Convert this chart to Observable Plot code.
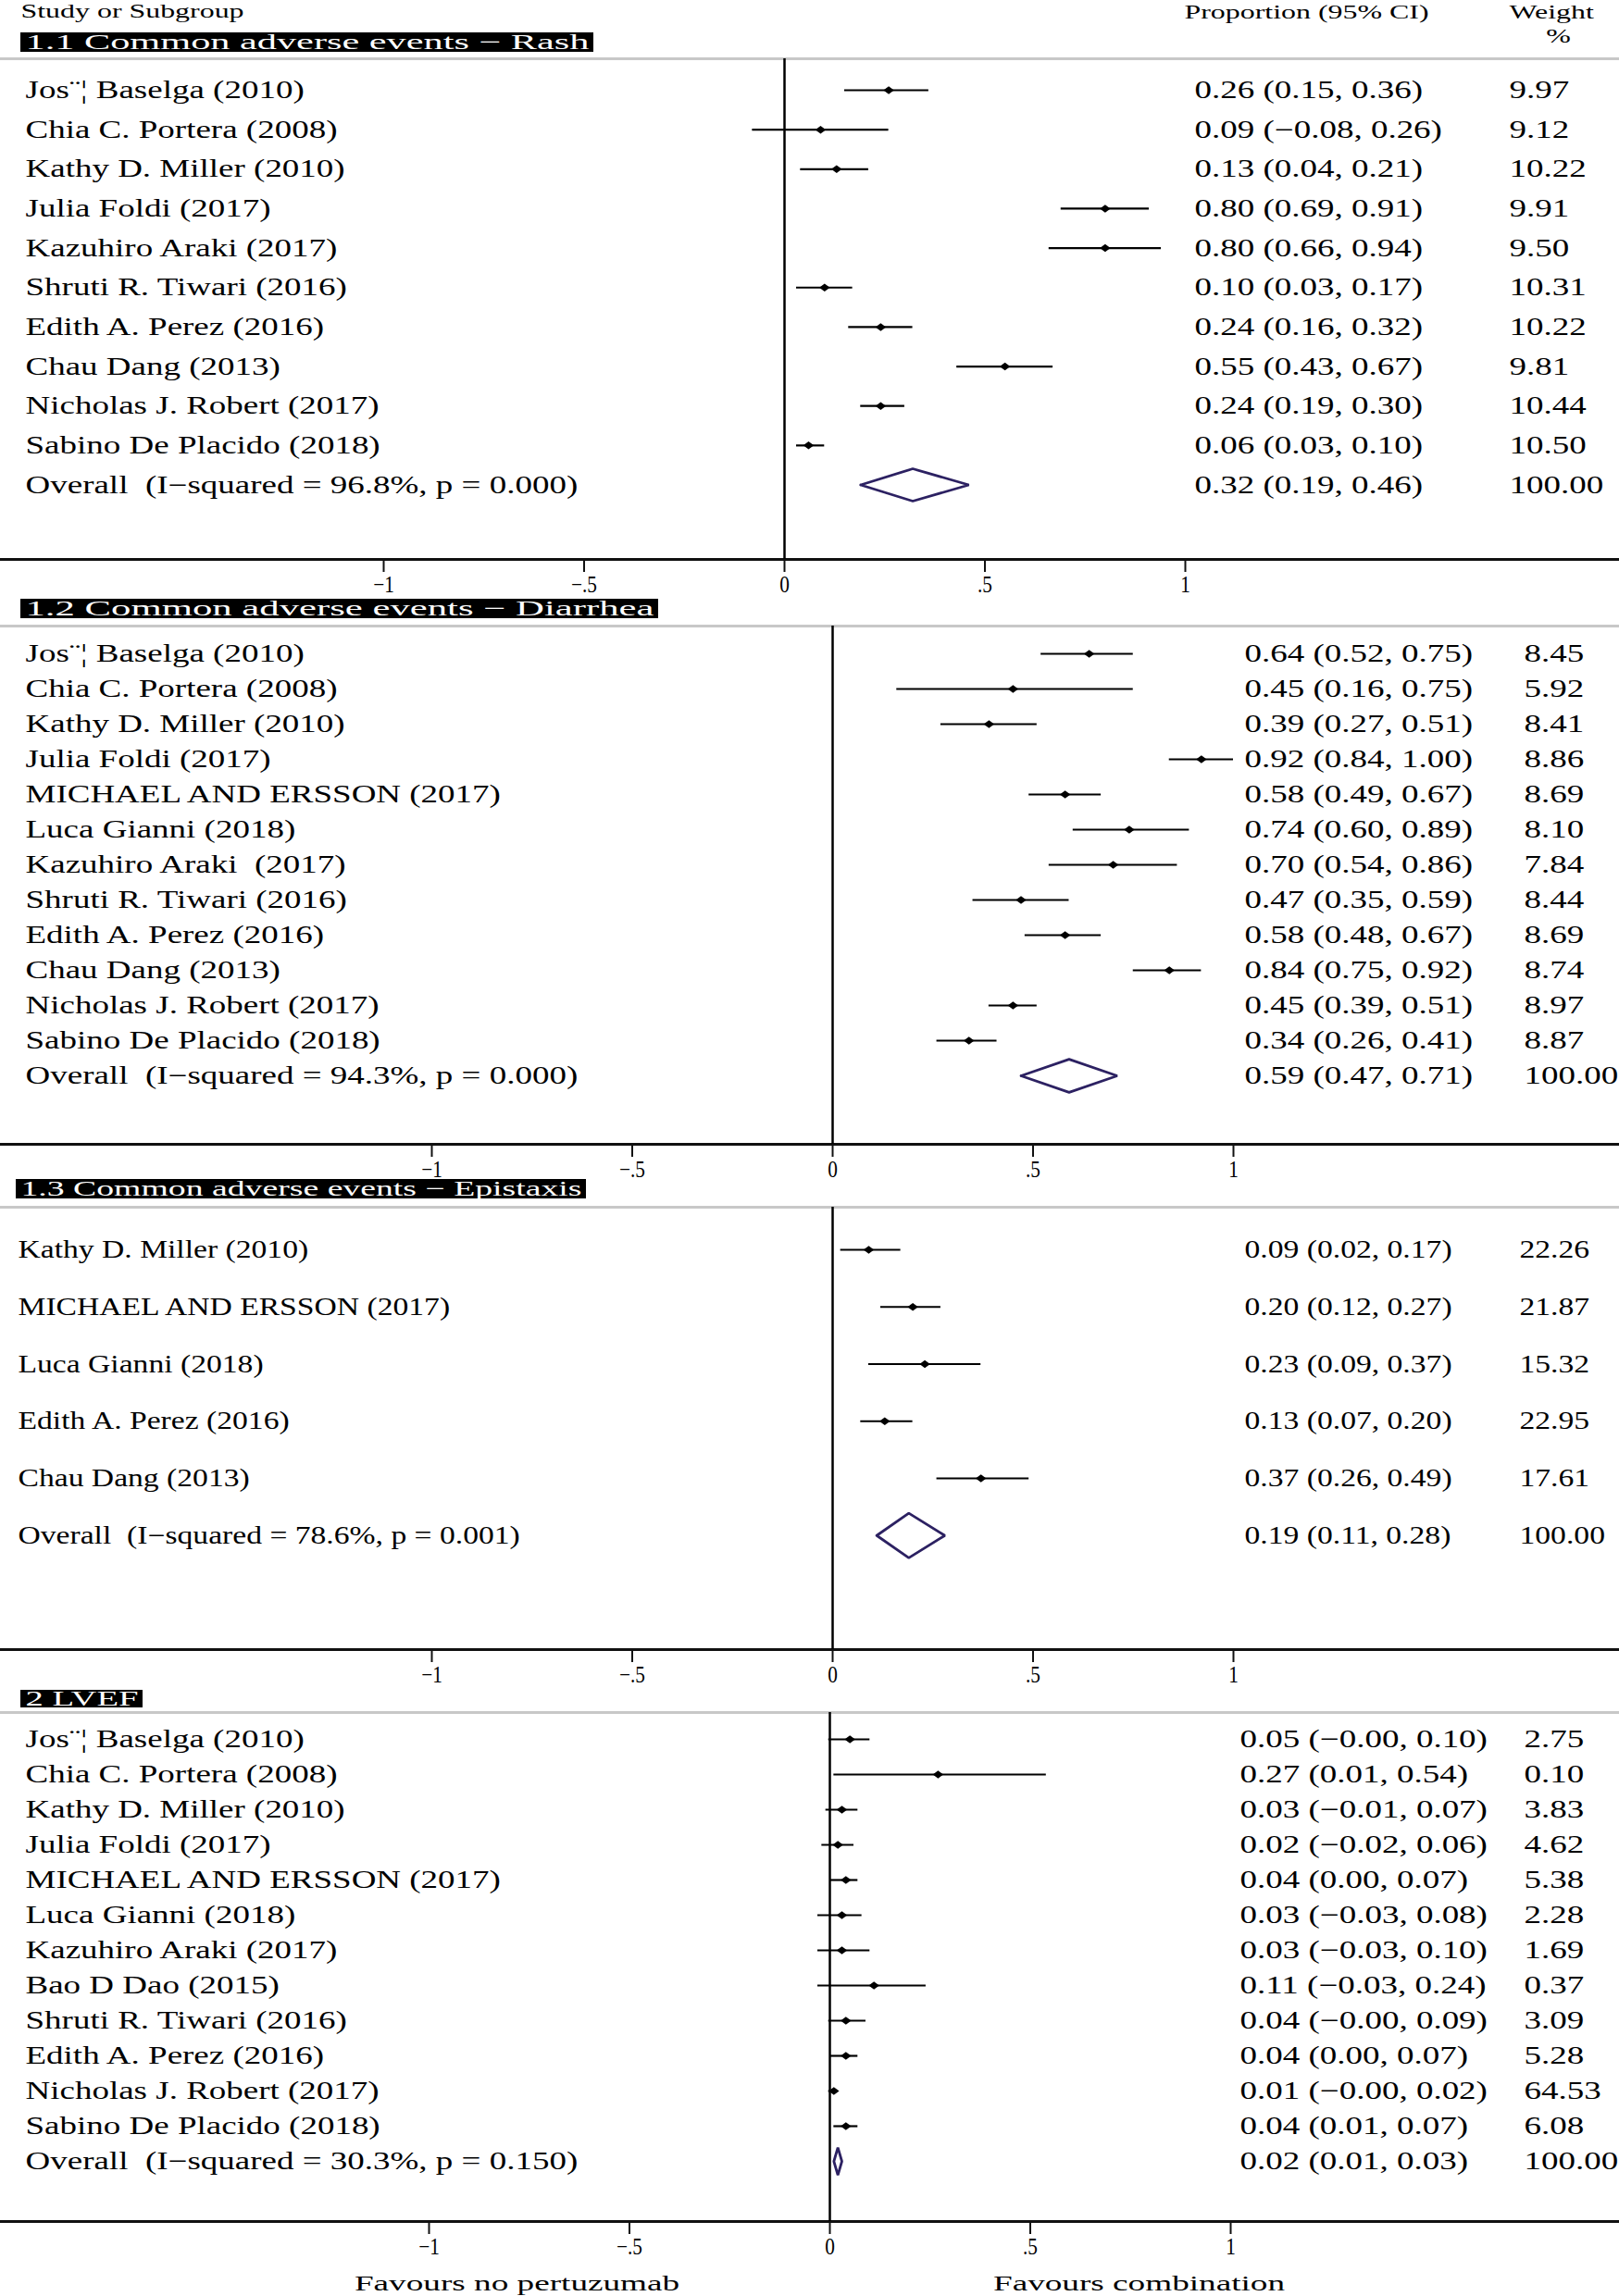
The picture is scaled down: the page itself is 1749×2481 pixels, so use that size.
<!DOCTYPE html>
<html><head><meta charset="utf-8">
<script src="https://cdn.jsdelivr.net/npm/d3@7"></script>
<script src="https://cdn.jsdelivr.net/npm/@observablehq/plot@0.6"></script>
<style>
body{margin:0;background:#fff;}
#chart{width:1749px;}
#chart svg{display:block;}
svg text{white-space:pre;}
</style></head><body><div id="chart"></div>
<script>
// ---------------- data ----------------
const colHeaders = ["Study or Subgroup", "Proportion (95% CI)", "Weight", "%"];
const panelTitles = ["1.1 Common adverse events \u2212 Rash", "1.2 Common adverse events \u2212 Diarrhea", "1.3 Common adverse events \u2212 Epistaxis", "2 LVEF"];
const favoursLabels = ["Favours no pertuzumab", "Favours combination"];
const tickValues = [-1, -0.5, 0, 0.5, 1];
const tickLabels = ["\u22121", "\u2212.5", "0", ".5", "1"];

const rashLabels = ["Jos\u00a8\u00a6 Baselga (2010)", "Chia C. Portera (2008)", "Kathy D. Miller (2010)", "Julia Foldi (2017)", "Kazuhiro Araki (2017)", "Shruti R. Tiwari (2016)", "Edith A. Perez (2016)", "Chau Dang (2013)", "Nicholas J. Robert (2017)", "Sabino De Placido (2018)", "Overall  (I\u2212squared = 96.8%, p = 0.000)"];
const rashEst = [0.26, 0.09, 0.13, 0.80, 0.80, 0.10, 0.24, 0.55, 0.24, 0.06, 0.32];
const rashLo = [0.15, -0.08, 0.04, 0.69, 0.66, 0.03, 0.16, 0.43, 0.19, 0.03, 0.19];
const rashHi = [0.36, 0.26, 0.21, 0.91, 0.94, 0.17, 0.32, 0.67, 0.30, 0.10, 0.46];
const rashWeight = [9.97, 9.12, 10.22, 9.91, 9.50, 10.31, 10.22, 9.81, 10.44, 10.50, 100.00];

const diarrheaLabels = ["Jos\u00a8\u00a6 Baselga (2010)", "Chia C. Portera (2008)", "Kathy D. Miller (2010)", "Julia Foldi (2017)", "MICHAEL AND ERSSON (2017)", "Luca Gianni (2018)", "Kazuhiro Araki  (2017)", "Shruti R. Tiwari (2016)", "Edith A. Perez (2016)", "Chau Dang (2013)", "Nicholas J. Robert (2017)", "Sabino De Placido (2018)", "Overall  (I\u2212squared = 94.3%, p = 0.000)"];
const diarrheaEst = [0.64, 0.45, 0.39, 0.92, 0.58, 0.74, 0.70, 0.47, 0.58, 0.84, 0.45, 0.34, 0.59];
const diarrheaLo = [0.52, 0.16, 0.27, 0.84, 0.49, 0.60, 0.54, 0.35, 0.48, 0.75, 0.39, 0.26, 0.47];
const diarrheaHi = [0.75, 0.75, 0.51, 1.00, 0.67, 0.89, 0.86, 0.59, 0.67, 0.92, 0.51, 0.41, 0.71];
const diarrheaWeight = [8.45, 5.92, 8.41, 8.86, 8.69, 8.10, 7.84, 8.44, 8.69, 8.74, 8.97, 8.87, 100.00];

const epistaxisLabels = ["Kathy D. Miller (2010)", "MICHAEL AND ERSSON (2017)", "Luca Gianni (2018)", "Edith A. Perez (2016)", "Chau Dang (2013)", "Overall  (I\u2212squared = 78.6%, p = 0.001)"];
const epistaxisEst = [0.09, 0.20, 0.23, 0.13, 0.37, 0.19];
const epistaxisLo = [0.02, 0.12, 0.09, 0.07, 0.26, 0.11];
const epistaxisHi = [0.17, 0.27, 0.37, 0.20, 0.49, 0.28];
const epistaxisWeight = [22.26, 21.87, 15.32, 22.95, 17.61, 100.00];

const lvefLabels = ["Jos\u00a8\u00a6 Baselga (2010)", "Chia C. Portera (2008)", "Kathy D. Miller (2010)", "Julia Foldi (2017)", "MICHAEL AND ERSSON (2017)", "Luca Gianni (2018)", "Kazuhiro Araki (2017)", "Bao D Dao (2015)", "Shruti R. Tiwari (2016)", "Edith A. Perez (2016)", "Nicholas J. Robert (2017)", "Sabino De Placido (2018)", "Overall  (I\u2212squared = 30.3%, p = 0.150)"];
const lvefEst = [0.05, 0.27, 0.03, 0.02, 0.04, 0.03, 0.03, 0.11, 0.04, 0.04, 0.01, 0.04, 0.02];
const lvefLo = [-0.003, 0.01, -0.01, -0.02, 0.00, -0.03, -0.03, -0.03, -0.003, 0.00, -0.003, 0.01, 0.01];
const lvefHi = [0.10, 0.54, 0.07, 0.06, 0.07, 0.08, 0.10, 0.24, 0.09, 0.07, 0.02, 0.07, 0.03];
const lvefWeight = [2.75, 0.10, 3.83, 4.62, 5.38, 2.28, 1.69, 0.37, 3.09, 5.28, 64.53, 6.08, 100.00];

// ---------------- layout / style ----------------
const W = 1749, UNIT = 433;
const NAVY = "#2c2162";
const FONT = "'Liberation Serif', 'Times New Roman', serif";
const fmt = d => (d < 0 ? "\u2212" : "") + Math.abs(d).toFixed(2);
const wideDiamond = {draw(ctx, size) {
  const r = Math.sqrt(size / Math.PI);
  ctx.moveTo(-r * 1.15, 0); ctx.lineTo(0, -r * 0.85); ctx.lineTo(r * 1.15, 0); ctx.lineTo(0, r * 0.85); ctx.closePath();
}};

function stretchEl(t, fn) {
  const len = t.getComputedTextLength();
  if (!len) return;
  t.setAttribute("textLength", fn(len).toFixed(2));
  t.setAttribute("lengthAdjust", "spacingAndGlyphs");
}

function makePanel(p) {
  const L = p.layout;
  const toRow = px => (px - L.row0) / L.step;
  const n = p.labels.length;
  const rows = p.labels.map((label, i) => ({label, row: i, est: p.est[i], lo: p.lo[i], hi: p.hi[i], w: p.weight[i], overall: i === n - 1}));
  const studies = rows.filter(d => !d.overall);
  const overall = rows.filter(d => d.overall);
  const diamond = overall.flatMap(d => [
    {x: d.lo, y: d.row}, {x: d.est, y: d.row - L.dh}, {x: d.hi, y: d.row},
    {x: d.est, y: d.row + L.dh}, {x: d.lo, y: d.row}
  ]);
  const textOpts = {y: "row", frameAnchor: "left", textAnchor: "start", fontSize: 27, fill: "black"};
  const tickFormat = d => tickLabels[tickValues.indexOf(d)];
  const marks = [
    Plot.ruleY([toRow(L.gray)], {stroke: "#c8c8c8", strokeWidth: 3}),
    Plot.ruleY([toRow(L.axis)], {stroke: "#111", strokeWidth: 3}),
    // x axis: ticks and tick labels on the x scale
    Plot.ruleX(tickValues, {x: d => d, y1: toRow(L.axis), y2: toRow(L.axis + 14), stroke: "#111", strokeWidth: 2}),
    Plot.text(tickValues, {x: d => d, y: toRow(L.axis + 27), text: tickFormat, fontSize: 25, fill: "black"}),
    Plot.ruleX([0], {y1: toRow(L.gray), y2: toRow(L.axis), stroke: "black", strokeWidth: 2.5}),
    Plot.ruleY(studies, {y: "row", x1: "lo", x2: "hi", stroke: "black", strokeWidth: 2.2}),
    Plot.dot(studies, {x: "est", y: "row", symbol: wideDiamond, r: 5, fill: "black", stroke: "none"}),
    Plot.line(diamond, {x: "x", y: "y", stroke: NAVY, strokeWidth: 2.8, strokeLinejoin: "miter"}),
    Plot.text(rows, {...textOpts, text: "label", dx: L.labelX}),
    Plot.text(rows, {...textOpts, text: d => `${fmt(d.est)} (${fmt(d.lo)}, ${fmt(d.hi)})`, dx: L.ciX}),
    Plot.text(rows, {...textOpts, text: d => fmt(d.w), dx: L.wX}),
    Plot.text([p.title], {text: d => d, y: toRow((L.boxTop + L.boxBot) / 2), frameAnchor: "left", dx: L.boxX + 5, textAnchor: "start", fontSize: 23, fill: "white"})
  ];
  if (p.colHeads) {
    const ch = {text: d => d, frameAnchor: "left", textAnchor: "start", fontSize: 22, fill: "black"};
    marks.push(
      Plot.text([colHeaders[0]], {...ch, y: toRow(11), dx: 22}),
      Plot.text([colHeaders[1]], {...ch, y: toRow(12), dx: 1279}),
      Plot.text([colHeaders[2]], {...ch, y: toRow(12), dx: 1630}),
      Plot.text([colHeaders[3]], {...ch, y: toRow(38), dx: 1683, textAnchor: "middle"})
    );
  }
  if (p.favours) {
    const fv = {text: d => d, frameAnchor: "left", textAnchor: "middle", fontSize: 24, fill: "black", y: toRow(L.favY)};
    marks.push(
      Plot.text([favoursLabels[0]], {...fv, dx: 558}),
      Plot.text([favoursLabels[1]], {...fv, dx: 1230})
    );
  }
  const svg = Plot.plot({
    width: W, height: L.height,
    marginLeft: 0, marginRight: 0, marginTop: 0, marginBottom: 0,
    style: {fontFamily: FONT, fontSize: "21px", color: "black", background: "transparent", overflow: "visible"},
    x: {domain: [-L.zero / UNIT, (W - L.zero) / UNIT], axis: null},
    y: {domain: [toRow(0), toRow(L.height)], range: [0, L.height], axis: null},
    marks
  });
  document.getElementById("chart").appendChild(svg);

  // post-process text widths (the reference typesetting is horizontally stretched)
  const tickSet = new Set(tickLabels);
  const titleSet = new Set(panelTitles);
  const headSet = new Set(colHeaders);
  const favSet = new Set(favoursLabels);
  let titleText = null;
  svg.querySelectorAll("text").forEach(t => {
    const s = t.textContent;
    if (titleSet.has(s)) { stretchEl(t, () => L.headerW); titleText = t; }
    else if (headSet.has(s)) stretchEl(t, len => len * 1.45);
    else if (favSet.has(s)) stretchEl(t, len => len * 1.55);
    else if (tickSet.has(s)) stretchEl(t, len => len * 0.85);
    else stretchEl(t, len => len * p.ratio);
  });
  // black label box behind the subgroup title
  if (titleText) {
    const g = titleText.parentNode;
    const rect = document.createElementNS("http://www.w3.org/2000/svg", "rect");
    rect.setAttribute("x", L.boxX);
    rect.setAttribute("y", L.boxTop);
    rect.setAttribute("width", L.headerW + 10);
    rect.setAttribute("height", L.boxBot - L.boxTop);
    rect.setAttribute("fill", "black");
    g.parentNode.insertBefore(rect, g);
  }
}

makePanel({labels: rashLabels, est: rashEst, lo: rashLo, hi: rashHi, weight: rashWeight, title: panelTitles[0], colHeads: true, ratio: 1.37,
  layout: {height: 641, row0: 97, step: 42.65, gray: 63, axis: 604, zero: 847, boxTop: 35, boxBot: 56, boxX: 22, headerW: 609, labelX: 27, ciX: 1290, wX: 1630, dh: 0.41}});
makePanel({labels: diarrheaLabels, est: diarrheaEst, lo: diarrheaLo, hi: diarrheaHi, weight: diarrheaWeight, title: panelTitles[1], ratio: 1.37,
  layout: {height: 627, row0: 65, step: 38, gray: 35, axis: 595, zero: 899, boxTop: 6, boxBot: 27, boxX: 22, headerW: 679, labelX: 27, ciX: 1344, wX: 1646, dh: 0.47}});
makePanel({labels: epistaxisLabels, est: epistaxisEst, lo: epistaxisLo, hi: epistaxisHi, weight: epistaxisWeight, title: panelTitles[2], ratio: 1.245,
  layout: {height: 547, row0: 82, step: 61.75, gray: 36, axis: 514, zero: 899, boxTop: 6, boxBot: 27, boxX: 17, headerW: 606, labelX: 19, ciX: 1344, wX: 1641, dh: 0.39}});
makePanel({labels: lvefLabels, est: lvefEst, lo: lvefLo, hi: lvefHi, weight: lvefWeight, title: panelTitles[3], favours: true, ratio: 1.37,
  layout: {height: 666, row0: 64, step: 38, gray: 35, axis: 585, zero: 896, boxTop: 11, boxBot: 30, boxX: 22, headerW: 122, labelX: 27, ciX: 1339, wX: 1646, dh: 0.39, favY: 652}});
</script>
</body></html>
